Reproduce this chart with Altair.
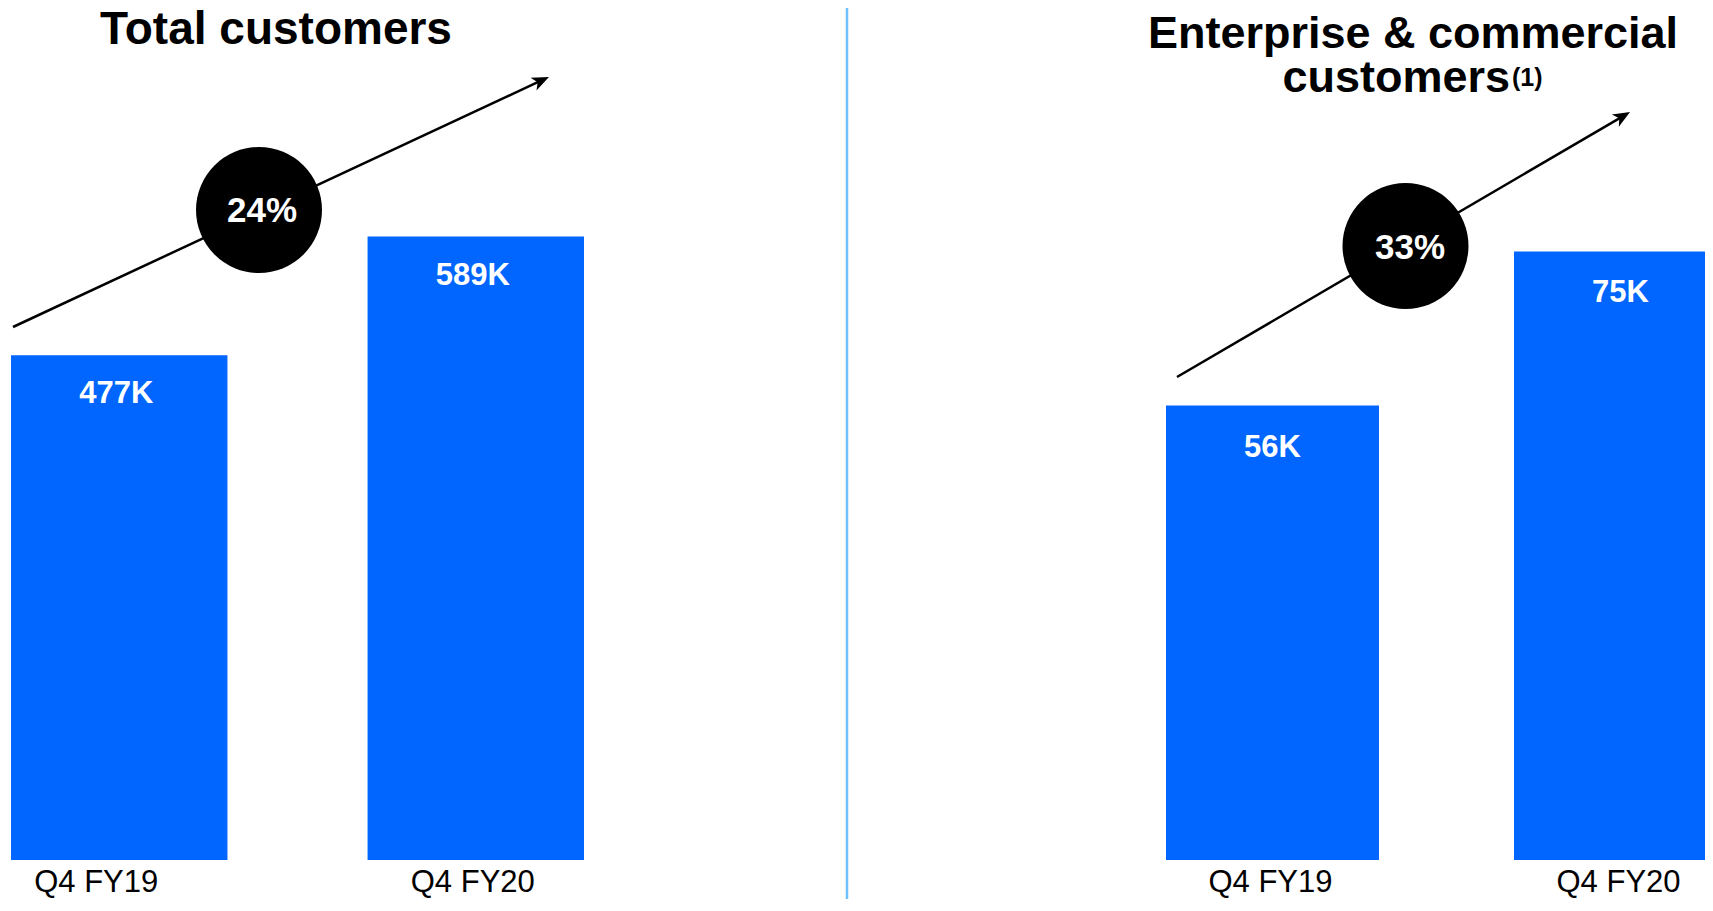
import altair as alt
import pandas as pd

# ---------------- data ----------------
categories = ["Q4 FY19", "Q4 FY20"]
total_customers_k = [477, 589]
enterprise_customers_k = [56, 75]
growth_labels = ["24%", "33%"]
title_left = ["Total customers"]
title_right_line1 = ["Enterprise & commercial"]
title_right_line2 = ["customers"]
title_right_note = ["(1)"]

FONT = "Liberation Sans"
BLUE = "#0066FF"
DIVIDER = "#6EC1FF"
W, H = 1697, 852
PAD_BOTTOM = 39

left_df = pd.DataFrame({
    "period": categories,
    "value": total_customers_k,
    "label": [f"{v}K" for v in total_customers_k],
})
right_df = pd.DataFrame({
    "period": categories,
    "value": enterprise_customers_k,
    "label": [f"{v}K" for v in enterprise_customers_k],
})

axis_common = dict(
    orient="bottom", title=None, domain=False, ticks=False, tickSize=0,
    grid=False, labelFont=FONT, labelFontSize=31, labelColor="black",
    labelAngle=0, labelBaseline="alphabetic", labelPadding=31,
)

left_x = alt.X(
    "period:N", sort=categories,
    scale=alt.Scale(range=[3, 576], paddingInner=0.393, paddingOuter=0),
    axis=alt.Axis(**axis_common,
                  labelOffset=alt.condition("datum.value == 'Q4 FY19'",
                                            alt.value(-23), alt.value(-3))),
)
left_y = alt.Y("value:Q", scale=alt.Scale(domain=[0, 805], nice=False, zero=True), axis=None)

right_x = alt.X(
    "period:N", sort=categories,
    scale=alt.Scale(range=[1158, 1719], paddingInner=0.388, paddingOuter=0),
    axis=alt.Axis(**axis_common, labelOffset=-2),
)
right_y = alt.Y("value:Q", scale=alt.Scale(domain=[0, 105], nice=False, zero=True), axis=None)

left_base = alt.Chart(left_df).encode(x=left_x, y=left_y)
left_group = alt.layer(
    left_base.mark_bar(color=BLUE, clip=True),
    left_base.mark_text(color="white", font=FONT, fontSize=31, fontWeight="bold",
                        baseline="alphabetic", dy=48, dx=-3).encode(text="label:N"),
)

right_base = alt.Chart(right_df).encode(x=right_x, y=right_y)
right_group = alt.layer(
    right_base.mark_bar(color=BLUE, clip=True),
    right_base.mark_text(color="white", font=FONT, fontSize=31, fontWeight="bold",
                         baseline="alphabetic", dy=51).encode(text="label:N"),
)

one = pd.DataFrame({"k": [0]})

def title_text(txt, x, y, size=45, align="center"):
    return alt.Chart(pd.DataFrame({"t": txt})).mark_text(
        font=FONT, fontSize=size, fontWeight="bold", color="black",
        align=align, baseline="alphabetic",
    ).encode(text="t:N", x=alt.value(x), y=alt.value(y))

ARROW = "M0,-1L0.7,0.7L0,0.25L-0.7,0.7Z"

def growth(label, cx, cy, tx, ty, x0, y0, hx, hy, ang):
    line = alt.Chart(one).mark_rule(color="black", strokeWidth=2.5).encode(
        x=alt.value(x0), y=alt.value(y0), x2=alt.value(hx), y2=alt.value(hy))
    head = alt.Chart(one).mark_point(shape=ARROW, filled=True, color="black",
                                     size=400, opacity=1, angle=ang).encode(
        x=alt.value(hx), y=alt.value(hy))
    circ = alt.Chart(one).mark_point(shape="circle", filled=True, color="black",
                                     size=15876, opacity=1).encode(
        x=alt.value(cx), y=alt.value(cy))
    txt = alt.Chart(pd.DataFrame({"g": [label]})).mark_text(
        font=FONT, fontSize=35, fontWeight="bold", color="white",
        align="center", baseline="alphabetic").encode(
        text="g:N", x=alt.value(tx), y=alt.value(ty))
    return [line, head, circ, txt]

divider = alt.Chart(one).mark_rule(color=DIVIDER, strokeWidth=2.5).encode(
    x=alt.value(839), y=alt.value(0), y2=alt.value(H + PAD_BOTTOM))

annotations = [
    divider,
    title_text(title_left, 268, 36, size=46),
    title_text(title_right_line1, 1405, 40),
    title_text(title_right_line2, 1502, 84, align="right"),
    title_text(title_right_note, 1504, 78, size=25, align="left"),
]
annotations += growth(growth_labels[0], 251, 202, 254, 214, 5, 319, 531.9, 73.2, 65)
annotations += growth(growth_labels[1], 1397.5, 238, 1402, 251, 1169, 369, 1613.4, 109.1, 60)

chart = alt.layer(left_group, right_group, *annotations).resolve_scale(
    x="independent", y="independent"
).properties(
    width=W, height=H,
    padding={"left": 0, "top": 0, "right": 0, "bottom": PAD_BOTTOM},
    autosize=alt.AutoSizeParams(type="none"),
).configure_view(strokeWidth=0)

chart.save("out.html", embed_options={"renderer": "svg", "actions": False})
